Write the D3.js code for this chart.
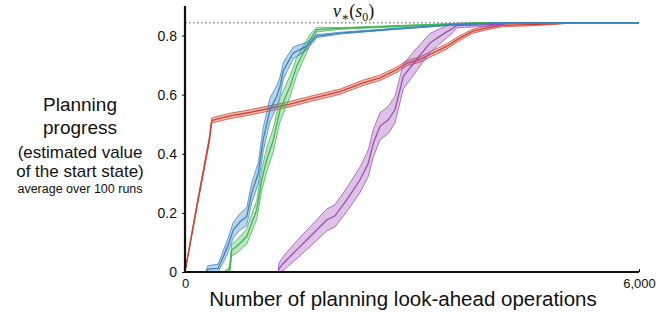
<!DOCTYPE html>
<html>
<head>
<meta charset="utf-8">
<script src="https://cdn.jsdelivr.net/npm/d3@7"></script>
<style>
	body { margin: 0; background: #fff; }
	text { font-family: "Liberation Sans", Arial, Helvetica, sans-serif; fill: #111; }
</style>
</head>
<body>
<div id="chart"></div>
<script>
// data: x = look-ahead operations, y = mean value, err = band half-width
var redX = [0, 155, 321, 353, 383, 595, 815, 1163, 1388, 1692, 2049, 2352, 2577, 2802, 2934, 3106, 3278, 3463, 3634, 3806, 3991, 4203, 4560, 4864, 4996, 5154, 6000];
var redY = [0, 0.22, 0.447, 0.512, 0.515, 0.528, 0.538, 0.556, 0.568, 0.588, 0.610, 0.640, 0.657, 0.685, 0.707, 0.719, 0.741, 0.764, 0.792, 0.815, 0.826, 0.835, 0.837, 0.840, 0.842, 0.843, 0.843];
var redErr = [0.004, 0.008, 0.009, 0.009, 0.009, 0.009, 0.009, 0.009, 0.009, 0.009, 0.009, 0.009, 0.009, 0.009, 0.009, 0.009, 0.009, 0.009, 0.008, 0.007, 0.006, 0.005, 0.004, 0.003, 0.002, 0, 0];

var blueX = [278, 304, 436, 506, 568, 638, 727, 815, 881, 969, 1035, 1123, 1212, 1256, 1299, 1361, 1431, 1608, 1741, 2049, 2798, 3591, 4163, 6000];
var blueY = [0, 0.01, 0.012, 0.052, 0.09, 0.142, 0.17, 0.187, 0.267, 0.335, 0.45, 0.549, 0.594, 0.628, 0.68, 0.71, 0.741, 0.764, 0.798, 0.808, 0.823, 0.837, 0.843, 0.843];
var blueErr = [0.006, 0.012, 0.014, 0.02, 0.024, 0.026, 0.028, 0.03, 0.033, 0.036, 0.04, 0.04, 0.036, 0.032, 0.028, 0.024, 0.02, 0.013, 0.005, 0.003, 0.002, 0.001, 0, 0];

var greenX = [529, 581, 595, 617, 683, 815, 881, 948, 1014, 1080, 1167, 1256, 1388, 1476, 1563, 1652, 1741, 2049, 3013, 3591, 3899, 6000];
var greenY = [0, 0.005, 0.018, 0.075, 0.086, 0.12, 0.165, 0.21, 0.312, 0.38, 0.447, 0.549, 0.628, 0.696, 0.741, 0.786, 0.82, 0.824, 0.834, 0.840, 0.843, 0.843];
var greenErr = [0.004, 0.01, 0.016, 0.02, 0.022, 0.026, 0.03, 0.032, 0.036, 0.04, 0.04, 0.04, 0.036, 0.03, 0.024, 0.018, 0.008, 0.003, 0.002, 0.001, 0, 0];

var purpleX = [1233, 1242, 1299, 1476, 1608, 1741, 1873, 1982, 2137, 2313, 2422, 2489, 2577, 2687, 2775, 2819, 2885, 3062, 3238, 3370, 3546, 3591, 4163, 4295, 6000];
var purpleY = [0, 0.012, 0.029, 0.075, 0.108, 0.142, 0.176, 0.19, 0.244, 0.312, 0.368, 0.436, 0.493, 0.515, 0.549, 0.594, 0.662, 0.719, 0.775, 0.798, 0.826, 0.834, 0.838, 0.843, 0.843];
var purpleErr = [0.01, 0.018, 0.024, 0.03, 0.033, 0.035, 0.037, 0.038, 0.04, 0.043, 0.045, 0.046, 0.046, 0.046, 0.045, 0.044, 0.042, 0.038, 0.032, 0.025, 0.015, 0.008, 0.004, 0, 0];

var optimalValue = 0.843;
var xTicks = [0, 6000];
var yTicks = [0, 0.2, 0.4, 0.6, 0.8];
var yLabelLines = ["Planning", "progress", "(estimated value", "of the start state)", "average over 100 runs"];
var xLabel = "Number of planning look-ahead operations";

// chart dimensions
var width = 664;
var height = 319;
var plot = { left: 185, right: 639, top: 6, bottom: 272 };

var x = d3.scaleLinear().domain([0, 6000]).range([plot.left, plot.right]);
var y = d3.scaleLinear().domain([0, 0.9]).range([plot.bottom, plot.top]);

var svg = d3.select("#chart")
  .append("svg")
	.attr("width", width)
	.attr("height", height);

// build one series object per colour
function makeSeries(xs, ys, errs, color) {
	return {
		color: color,
		points: xs.map(function(v, i) { return { x: v, y: ys[i], e: errs[i] }; })
	};
}

var series = [
	makeSeries(redX, redY, redErr, "#d1402f"),
	makeSeries(purpleX, purpleY, purpleErr, "#9a4fb5"),
	makeSeries(greenX, greenY, greenErr, "#3fb552"),
	makeSeries(blueX, blueY, blueErr, "#3883c2")
];

// optimal value reference line
svg.append("line")
	.attr("x1", plot.left)
	.attr("x2", plot.right)
	.attr("y1", y(optimalValue))
	.attr("y2", y(optimalValue))
	.style("stroke", "#888")
	.style("stroke-width", 1.5)
	.style("stroke-dasharray", "1.5,2.5");

var area = d3.area()
	.x(function(d) { return x(d.x); })
	.y0(function(d) { return y(Math.max(0, d.y - d.e)); })
	.y1(function(d) { return y(d.y + d.e); });

var lower = d3.line()
	.x(function(d) { return x(d.x); })
	.y(function(d) { return y(Math.max(0, d.y - d.e)); });

var upper = d3.line()
	.x(function(d) { return x(d.x); })
	.y(function(d) { return y(d.y + d.e); });

var line = d3.line()
	.x(function(d) { return x(d.x); })
	.y(function(d) { return y(d.y); });

var groups = svg.selectAll(".series")
	.data(series)
	.enter().append("g")
	.attr("class", "series");

groups.append("path")
	.attr("d", function(d) { return area(d.points); })
	.style("fill", function(d) { return d.color; })
	.style("fill-opacity", 0.35)
	.style("stroke", "none");

groups.append("path")
	.attr("d", function(d) { return lower(d.points); })
	.style("fill", "none")
	.style("stroke", function(d) { return d.color; })
	.style("stroke-opacity", 0.75)
	.style("stroke-width", 1);

groups.append("path")
	.attr("d", function(d) { return upper(d.points); })
	.style("fill", "none")
	.style("stroke", function(d) { return d.color; })
	.style("stroke-opacity", 0.75)
	.style("stroke-width", 1);

groups.append("path")
	.attr("d", function(d) { return line(d.points); })
	.style("fill", "none")
	.style("stroke", function(d) { return d.color; })
	.style("stroke-width", 1.3);

// axes
var xAxis = d3.axisBottom(x)
	.tickValues(xTicks)
	.tickSize(3)
	.tickPadding(4)
	.tickFormat(d3.format(","));

var yAxis = d3.axisLeft(y)
	.tickValues(yTicks)
	.tickSize(3)
	.tickPadding(5)
	.tickFormat(function(d) { return d === 0 ? "0" : d3.format(".1f")(d); });

var gx = svg.append("g")
	.attr("transform", "translate(0," + plot.bottom + ")")
	.call(xAxis);
gx.select(".domain").attr("d", "M" + plot.left + ",0H" + plot.right).style("stroke-width", 1.8).style("stroke", "#111");
gx.selectAll(".tick line").attr("y2", -3).style("stroke", "#111");
gx.selectAll(".tick text").style("font-size", "13px").style("font-family", "Liberation Sans, Arial, sans-serif").attr("fill", "#111");

var gy = svg.append("g")
	.attr("transform", "translate(" + plot.left + ",0)")
	.call(yAxis);
gy.select(".domain").attr("d", "M0," + plot.top + "V" + plot.bottom).style("stroke-width", 2.2).style("stroke", "#111");
gy.selectAll(".tick line").style("stroke", "#111");
gy.selectAll(".tick text").style("font-size", "14px").style("font-family", "Liberation Sans, Arial, sans-serif").attr("fill", "#111");

// y label block
var yLabelSizes = [19, 19, 17, 17, 12.5];
var yLabelBase = [111, 134, 158, 177, 193];
svg.selectAll(".ylab")
	.data(yLabelLines)
	.enter().append("text")
	.attr("class", "ylab")
	.attr("x", 80)
	.attr("y", function(d, i) { return yLabelBase[i]; })
	.attr("text-anchor", "middle")
	.style("font-size", function(d, i) { return yLabelSizes[i] + "px"; })
	.text(function(d) { return d; });

// x label
svg.append("text")
	.attr("x", 403)
	.attr("y", 306)
	.attr("text-anchor", "middle")
	.style("font-size", "20.5px")
	.text(xLabel);

// v*(s0) annotation
var vt = svg.append("text")
	.attr("x", 333)
	.attr("y", 17)
	.style("font-family", "Liberation Serif, DejaVu Serif, serif")
	.style("font-size", "18px");
vt.append("tspan").style("font-style", "italic").text("v");
vt.append("tspan").attr("dy", 4).style("font-size", "12px").text("\u2217");
vt.append("tspan").attr("dy", -4).text("(");
vt.append("tspan").style("font-style", "italic").text("s");
vt.append("tspan").attr("dy", 4).style("font-size", "12px").text("0");
vt.append("tspan").attr("dy", -4).text(")");
</script>
</body>
</html>
